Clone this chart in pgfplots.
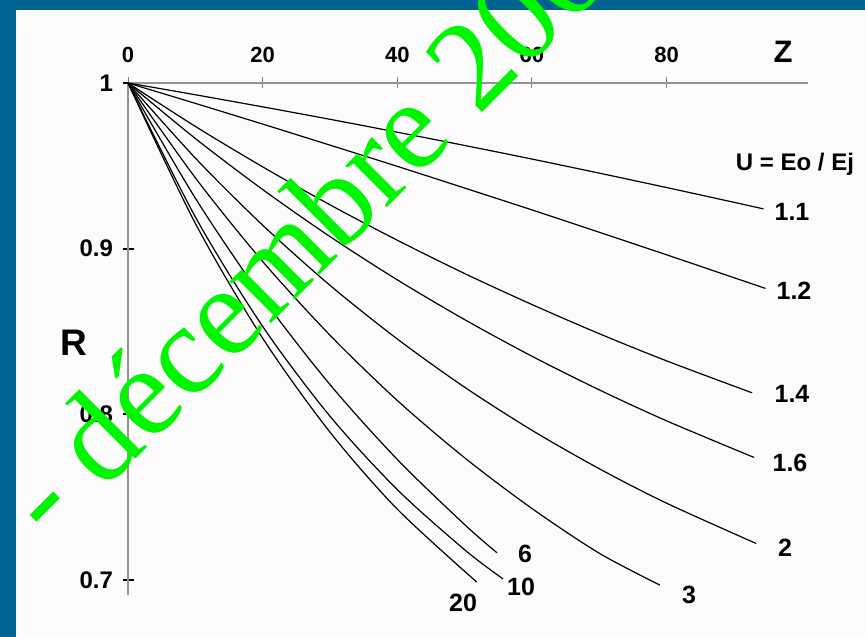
\documentclass[border=0pt]{standalone}
\usepackage{pgfplots}
\pgfplotsset{compat=1.18}
\usepackage{fontspec}
\setmainfont{Liberation Sans}
\newfontfamily\wmfont{Liberation Serif}
\definecolor{bgblue}{RGB}{0,99,143}
\definecolor{paper}{RGB}{251,251,251}
\definecolor{wmgreen}{RGB}{0,245,0}
\begin{document}
\begin{tikzpicture}[x=1pt,y=1pt]
\useasboundingbox (0,0) rectangle (865,637);
\fill[bgblue] (0,0) rectangle (865,637);
\fill[paper] (16,0) rectangle (865,627);
\begin{axis}[
  at={(128pt,42pt)}, anchor=south west,
  scale only axis, width=680pt, height=512pt,
  xmin=0, xmax=101, ymin=0.691, ymax=1,
  axis x line=top, axis y line=left,
  axis line style={-, draw=gray!85, line width=1.2pt},
  xtick={0,20,40,60,80}, xticklabels={0,20,40,60,80},
  ytick={0.7,0.8,0.9,1}, yticklabels={0.7,0.8,0.9,{1\hspace{9pt}}},
  /pgf/number format/assume math mode=true,
  tick align=center, major tick length=11pt,
  xtick style={draw=gray, line width=1pt},
  ytick style={draw=black, line width=1.8pt},
  xticklabel style={font=\bfseries\fontsize{22}{22}\selectfont, yshift=11pt},
  yticklabel style={font=\bfseries\fontsize{24}{24}\selectfont, xshift=-6pt},
  clip=false,
]
% U = 1.1
\addplot[black, line width=1.2pt, smooth] coordinates {
(0,1) (10,0.9929) (20,0.9856) (30,0.9781) (40,0.9703) (50,0.9623) (60,0.9541) (70,0.9456) (80,0.9369) (90,0.9280) (94.4,0.9240)};
% U = 1.2
\addplot[black, line width=1.2pt, smooth] coordinates {
(0,1) (10,0.9877) (20,0.9752) (30,0.9625) (40,0.9497) (50,0.9366) (60,0.9234) (70,0.9099) (80,0.8963) (90,0.8825) (94.7,0.8760)};
% U = 1.4
\addplot[black, line width=1.2pt, smooth] coordinates {
(0,1) (10,0.9738) (20,0.9494) (30,0.9265) (40,0.9051) (50,0.8850) (60,0.8663) (70,0.8487) (80,0.8323) (92.7,0.8130)};
% U = 1.6
\addplot[black, line width=1.2pt, smooth] coordinates {
(0,1) (10,0.9665) (20,0.9357) (30,0.9073) (40,0.8812) (50,0.8572) (60,0.8351) (70,0.8148) (80,0.7961) (93,0.7740)};
% U = 2
\addplot[black, line width=1.2pt, smooth] coordinates {
(0,1) (10,0.9547) (20,0.9142) (30,0.8779) (40,0.8455) (50,0.8164) (60,0.7904) (70,0.7672) (80,0.7464) (93.3,0.7221)};
% U = 3
\addplot[black, line width=1.2pt, smooth] coordinates {
(0,1) (10,0.9428) (20,0.8923) (30,0.8478) (40,0.8084) (50,0.7738) (60,0.7432) (70,0.7162) (79,0.6970)};
% U = 6
\addplot[black, line width=1.2pt, smooth] coordinates {
(0,1) (10,0.9305) (20,0.8703) (30,0.8180) (40,0.7728) (50,0.7335) (54.8,0.7165)};
% U = 10
\addplot[black, line width=1.2pt, smooth] coordinates {
(0,1) (10,0.9192) (20,0.8531) (30,0.7989) (40,0.7546) (50,0.7183) (55.7,0.7007)};
% U = 20
\addplot[black, line width=1.2pt, smooth] coordinates {
(0,1) (10,0.9153) (20,0.8460) (30,0.7893) (40,0.7428) (51.8,0.6988)};
\end{axis}
\begin{scope}[font=\bfseries\fontsize{25}{25}\selectfont]
\node at (792,425) {1.1};
\node at (794,346) {1.2};
\node at (792,243) {1.4};
\node at (790,174) {1.6};
\node at (785,89) {2};
\node at (689,42) {3};
\node at (525,83) {6};
\node at (521,50) {10};
\node at (463,34) {20};
\node[font=\bfseries\fontsize{24}{24}\selectfont] at (795,473) {U = Eo / Ej};
\node[font=\bfseries\fontsize{31}{31}\selectfont] at (783,585) {Z};
\node[font=\bfseries\fontsize{37}{37}\selectfont] at (74,294) {R};
\end{scope}
\begin{scope}
\clip (0,0) rectangle (865,637);
\node[rotate=45, anchor=base west, inner sep=0pt, text=wmgreen, font=\wmfont\fontsize{128}{128}\selectfont] at (51,93) {- décembre 2006};
\end{scope}
\end{tikzpicture}
\end{document}
